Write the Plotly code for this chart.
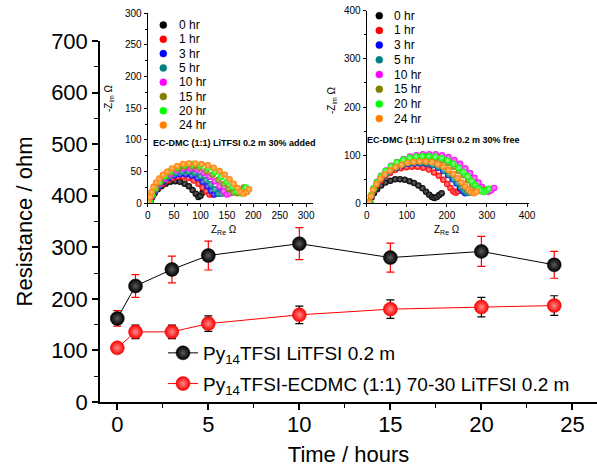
import plotly.graph_objects as go

W, H = 597, 475
def px(x): return x / W
def py(y): return 1 - y / H

# ---------------- main data ----------------
hours = [0, 1, 3, 5, 10, 15, 20, 24]
res_il = [162, 225, 257, 284, 307, 280, 292, 266]
err_il = [15, 22, 26, 28, 31, 28, 29, 26]
res_mix = [105, 136, 136, 152, 169, 180, 184, 187]
err_mix = [6, 13, 13, 15, 17, 18, 19, 19]
name_il = "Py<sub>14</sub>TFSI LiTFSI 0.2 m"
name_mix = "Py<sub>14</sub>TFSI-ECDMC (1:1) 70-30 LiTFSI 0.2 m"

# ---------------- inset data ----------------
labels = ["0 hr", "1 hr", "3 hr", "5 hr", "10 hr", "15 hr", "20 hr", "24 hr"]
colors = ["#000000", "#FF0000", "#0000FF", "#008080", "#FF00FF", "#808000", "#00FF00", "#FF8000"]
highlights = ["#707070", "#ff9a9a", "#9a9aff", "#80c0c0", "#ff9aff", "#c0c080", "#a0ffa0", "#ffc080"]

# inset 1: EC-DMC 30% added  (Z_re, -Z_im)
added_re = [
    [5, 8, 13, 19, 26, 34, 43, 52, 61, 70, 78, 85, 91, 96, 100, 104, 108],
    [5, 8, 13, 20, 28, 37, 47, 57, 67, 77, 87, 96, 104, 111, 117, 123, 128],
    [5, 9, 14, 21, 29, 39, 50, 61, 72, 83, 94, 104, 113, 120, 126, 132, 136],
    [5, 9, 15, 22, 31, 42, 53, 65, 77, 89, 100, 110, 119, 127, 134, 140, 144],
    [5, 9, 15, 23, 32, 43, 55, 68, 81, 94, 106, 117, 127, 136, 144, 150, 156, 160],
    [5, 9, 15, 23, 33, 44, 57, 70, 84, 98, 111, 123, 134, 144, 153, 162, 170, 176, 182],
    [4, 8, 14, 22, 32, 43, 56, 70, 85, 100, 114, 127, 139, 150, 160, 169, 177, 182, 186],
    [2, 4, 7, 11, 16, 22, 29, 37, 46, 56, 67, 78, 90, 102, 114, 125, 136, 146, 155, 163, 170, 176, 182, 188, 192],
]
added_im = [
    [2, 9, 16, 22, 27, 31, 34, 35, 34, 31, 27, 21, 15, 10, 12, 17, 21],
    [2, 10, 18, 25, 31, 36, 40, 42, 42, 40, 36, 31, 25, 19, 14, 14, 18],
    [2, 11, 19, 27, 34, 40, 44, 46, 46, 44, 40, 34, 27, 20, 14, 15, 19],
    [2, 12, 21, 29, 37, 43, 48, 50, 50, 48, 43, 37, 30, 22, 15, 15, 19],
    [2, 12, 22, 31, 39, 46, 52, 55, 55, 53, 48, 42, 35, 27, 19, 14, 16, 20],
    [2, 13, 23, 33, 42, 49, 55, 58, 58, 56, 51, 45, 37, 30, 23, 17, 16, 20, 25],
    [2, 13, 24, 34, 43, 51, 57, 61, 62, 60, 56, 49, 42, 34, 26, 19, 16, 20, 25],
    [2, 10, 18, 26, 33, 39, 45, 50, 55, 59, 62, 63, 63, 62, 60, 56, 51, 45, 38, 31, 24, 18, 15, 18, 22],
]

# inset 2: EC-DMC 30% free
free_re = [
    [8, 12, 18, 26, 36, 47, 59, 71, 83, 95, 107, 118, 129, 139, 148, 156, 163, 169, 175, 181, 187],
    [8, 12, 18, 26, 35, 46, 58, 71, 85, 99, 113, 127, 141, 155, 168, 180, 191, 201, 209, 216, 222, 228, 233],
    [8, 12, 18, 26, 36, 47, 60, 74, 89, 104, 119, 134, 149, 164, 178, 191, 203, 214, 224, 233, 240, 246, 251],
    [8, 12, 18, 26, 36, 48, 61, 75, 90, 105, 120, 135, 150, 165, 179, 193, 205, 217, 227, 236, 244, 250, 256],
    [8, 12, 18, 26, 36, 48, 61, 76, 92, 108, 124, 140, 156, 172, 188, 204, 219, 233, 246, 258, 269, 279, 288, 296, 304, 311, 318],
    [8, 12, 18, 26, 36, 48, 61, 76, 92, 108, 124, 140, 156, 172, 188, 203, 217, 230, 242, 253, 263, 272, 280, 287, 293],
    [7, 11, 17, 25, 35, 47, 60, 75, 91, 107, 123, 139, 155, 171, 187, 202, 216, 229, 241, 252, 262, 271, 279, 286, 293, 299, 304],
    [6, 10, 16, 24, 34, 45, 58, 72, 87, 102, 117, 132, 147, 162, 177, 191, 204, 216, 227, 237, 246, 254, 261, 268, 274],
]
free_im = [
    [2, 12, 21, 29, 37, 43, 47, 50, 50, 49, 46, 42, 37, 31, 24, 18, 13, 11, 13, 17, 21],
    [2, 14, 26, 37, 47, 56, 63, 69, 73, 75, 76, 76, 74, 70, 64, 57, 49, 40, 32, 25, 22, 25, 29],
    [2, 15, 28, 40, 51, 60, 68, 74, 79, 82, 83, 83, 82, 79, 74, 67, 59, 50, 41, 32, 25, 21, 22],
    [2, 15, 28, 40, 51, 61, 69, 75, 80, 83, 84, 84, 83, 80, 75, 68, 60, 51, 42, 33, 26, 22, 22],
    [2, 17, 31, 45, 57, 68, 78, 86, 92, 97, 100, 102, 102, 102, 100, 96, 90, 82, 73, 63, 53, 43, 34, 27, 24, 27, 32],
    [2, 16, 30, 43, 55, 66, 75, 83, 89, 93, 95, 96, 95, 93, 89, 83, 76, 67, 58, 48, 39, 31, 26, 25, 28],
    [2, 17, 31, 44, 56, 67, 77, 85, 91, 95, 97, 98, 98, 97, 94, 89, 82, 74, 65, 56, 46, 38, 31, 26, 24, 26, 30],
    [2, 15, 28, 40, 51, 60, 68, 75, 80, 84, 86, 87, 87, 85, 81, 76, 69, 61, 52, 43, 35, 28, 23, 21, 24],
]

FONT = "Liberation Sans, Arial, sans-serif"
fig = go.Figure()

# ---------------- main traces ----------------
fig.add_trace(go.Scatter(
    x=hours, y=res_il, name=name_il, mode="lines+markers", legendgroup="a",
    line=dict(color="black", width=1),
    marker=dict(size=14, color="black", gradient=dict(type="radial", color="#5a5a5a"),
                line=dict(color="black", width=0.5)),
    error_y=dict(type="data", array=err_il, color="#FF0000", thickness=1.2, width=4),
))
fig.add_trace(go.Scatter(
    x=hours, y=res_mix, name=name_mix, mode="lines+markers", legendgroup="b",
    line=dict(color="#FF0000", width=1),
    marker=dict(size=14, color="#FF0000", gradient=dict(type="radial", color="#ff8a8a"),
                line=dict(color="#dd0000", width=0.5)),
    error_y=dict(type="data", array=err_mix, color="black", thickness=1.2, width=4),
))

# ---------------- inset traces ----------------
for i in range(len(labels)):
    fig.add_trace(go.Scatter(
        x=added_re[i], y=added_im[i], xaxis="x2", yaxis="y2", mode="markers",
        showlegend=False, name=labels[i],
        marker=dict(size=6.5, color=colors[i], gradient=dict(type="radial", color=highlights[i]),
                    line=dict(width=0)),
    ))
for i in range(len(labels)):
    fig.add_trace(go.Scatter(
        x=free_re[i], y=free_im[i], xaxis="x3", yaxis="y3", mode="markers",
        showlegend=False, name=labels[i],
        marker=dict(size=6.5, color=colors[i], gradient=dict(type="radial", color=highlights[i]),
                    line=dict(width=0)),
    ))

main_ax = dict(showline=True, linecolor="black", linewidth=1.5, ticks="outside",
               ticklen=6, tickwidth=1.5, tickcolor="black", showgrid=False, zeroline=False,
               tickfont=dict(family=FONT, size=22, color="black"), automargin=False)
inset_ax = dict(showline=True, linecolor="black", linewidth=1, ticks="outside",
                ticklen=3, tickwidth=1, tickcolor="black", showgrid=False, zeroline=False,
                tickfont=dict(family=FONT, size=10, color="black"), automargin=False)

fig.update_layout(
    width=W, height=H, margin=dict(l=0, r=0, t=0, b=0),
    paper_bgcolor="white", plot_bgcolor="rgba(0,0,0,0)",
    font=dict(family=FONT, color="black"),
    xaxis=dict(main_ax, domain=[px(100), 1.0], range=[-0.95, 26.35], tickvals=[0, 5, 10, 15, 20, 25],
               ticklabelstandoff=-4,
               minor=dict(dtick=2.5, tick0=0, ticks="outside", ticklen=4, tickcolor="black", tickwidth=1.2),
               title=dict(text="Time / hours", font=dict(family=FONT, size=22), standoff=10)),
    yaxis=dict(main_ax, domain=[py(402), py(41)], range=[0, 700], tickvals=list(range(0, 701, 100)),
               minor=dict(dtick=50, tick0=0, ticks="outside", ticklen=4, tickcolor="black", tickwidth=1.2),
               title=dict(text="Resistance / ohm", font=dict(family=FONT, size=22), standoff=12)),
    xaxis2=dict(inset_ax, domain=[px(147.7), px(313)], range=[0, 313], anchor="y2",
                tickvals=list(range(0, 301, 50)), minor=dict(dtick=25, ticks="outside", ticklen=2, tickcolor="black")),
    yaxis2=dict(inset_ax, domain=[py(203.3), py(13.3)], range=[0, 300], anchor="x2",
                tickvals=list(range(0, 301, 50)), minor=dict(dtick=25, ticks="outside", ticklen=2, tickcolor="black")),
    xaxis3=dict(inset_ax, domain=[px(366.7), px(529)], range=[0, 405], anchor="y3",
                tickvals=list(range(0, 401, 100)), minor=dict(dtick=50, ticks="outside", ticklen=2, tickcolor="black")),
    yaxis3=dict(inset_ax, domain=[py(203.3), py(10.7)], range=[0, 400], anchor="x3",
                tickvals=list(range(0, 401, 100)), minor=dict(dtick=50, ticks="outside", ticklen=2, tickcolor="black")),
    legend=dict(x=px(163), y=py(334), xanchor="left", yanchor="top", bgcolor="rgba(0,0,0,0)",
                font=dict(family=FONT, size=19, color="black"), tracegroupgap=3),
)

def note(x, y, text, size, color="black", family=FONT, xanchor="center", angle=0):
    return dict(x=px(x), y=py(y), xref="paper", yref="paper", showarrow=False,
                xanchor=xanchor, yanchor="middle", textangle=angle, text=text,
                font=dict(family=family, size=size, color=color))

ann = []
shapes = []
# inset axis titles
for cx, cy in [(224, 230), (447, 230)]:
    ann.append(note(cx, cy, "Z<sub>Re</sub> Ω", 10))
for cx, cy in [(109, 98), (332, 100)]:
    ann.append(note(cx, cy, "-Z<sub>im</sub> Ω", 10, angle=-90))
# inset captions
ann.append(note(234, 143, "<b>EC-DMC (1:1) LiTFSI 0.2 m 30% added</b>", 9))
ann.append(note(443.5, 140, "<b>EC-DMC (1:1) LiTFSI 0.2 m 30% free</b>", 9))
# inset legends (symbol + label)
r = 3.5
for (mx, tx, y0, dy) in [(163.3, 177, 25, 14.3), (379.3, 391.7, 15.7, 14.7)]:
    for i, lab in enumerate(labels):
        yy = y0 + i * dy
        shapes.append(dict(type="circle", xref="paper", yref="paper",
                           x0=px(mx - r), x1=px(mx + r), y0=py(yy + r), y1=py(yy - r),
                           fillcolor=colors[i], line=dict(color=colors[i], width=0.5), layer="above"))
        ann.append(note(tx, yy, lab, 12, xanchor="left"))
fig.update_layout(annotations=ann, shapes=shapes)

fig.write_html("out.html", post_script="document.body.style.margin='0px';",
               config={"displayModeBar": False})
